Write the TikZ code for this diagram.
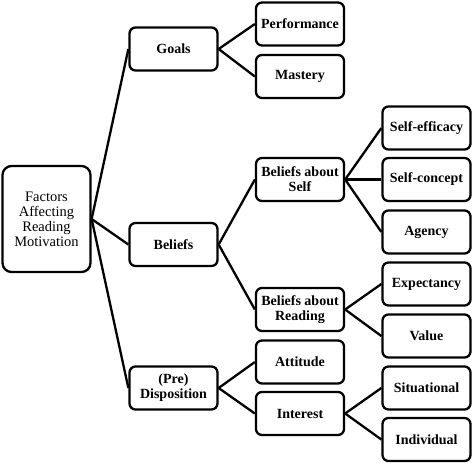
\documentclass[tikz,border=0pt]{standalone}
\usepackage{fontspec}
\setmainfont{Liberation Serif}
\begin{document}
\begin{tikzpicture}[x=1pt,y=-1pt,
  box/.style={draw,line width=2.3pt,rounded corners=6pt,minimum width=88pt,minimum height=43pt,
    inner sep=0pt,align=center,font=\bfseries\fontsize{14}{15}\selectfont},
  rootbox/.style={box,minimum height=106pt,rounded corners=9pt,font=\fontsize{14.5}{15}\selectfont},
  link/.style={line width=2.3pt}]
\useasboundingbox (0,0) rectangle (473,464);
\node[rootbox] (root) at (46.5,219) {Factors\\Affecting\\Reading\\Motivation};
\node[box] (goals) at (173.5,49) {Goals};
\node[box] (beliefs) at (173.5,244.5) {Beliefs};
\node[box] (disp) at (173.5,388) {(Pre)\\Disposition};
\node[box] (perf) at (300,24) {Performance};
\node[box] (mast) at (300,76.5) {Mastery};
\node[box] (bself) at (300,179.5) {Beliefs about\\Self};
\node[box] (bread) at (300,309.5) {Beliefs about\\Reading};
\node[box] (att) at (300,362) {Attitude};
\node[box] (int) at (300,413.5) {Interest};
\node[box] (seff) at (426.5,128) {Self-efficacy};
\node[box] (scon) at (426.5,179.5) {Self-concept};
\node[box] (agen) at (426.5,232) {Agency};
\node[box] (expe) at (426.5,284) {Expectancy};
\node[box] (valu) at (426.5,336) {Value};
\node[box] (situ) at (426.5,388) {Situational};
\node[box] (indi) at (426.5,439.5) {Individual};
\draw[link] (root.east) -- (goals.west);
\draw[link] (root.east) -- (beliefs.west);
\draw[link] (root.east) -- (disp.west);
\draw[link] (goals.east) -- (perf.west);
\draw[link] (goals.east) -- (mast.west);
\draw[link] (beliefs.east) -- (bself.west);
\draw[link] (beliefs.east) -- (bread.west);
\draw[link] (disp.east) -- (att.west);
\draw[link] (disp.east) -- (int.west);
\draw[link] (bself.east) -- (seff.west);
\draw[link] (bself.east) -- (scon.west);
\draw[link] (bself.east) -- (agen.west);
\draw[link] (bread.east) -- (expe.west);
\draw[link] (bread.east) -- (valu.west);
\draw[link] (int.east) -- (situ.west);
\draw[link] (int.east) -- (indi.west);
\end{tikzpicture}
\end{document}
